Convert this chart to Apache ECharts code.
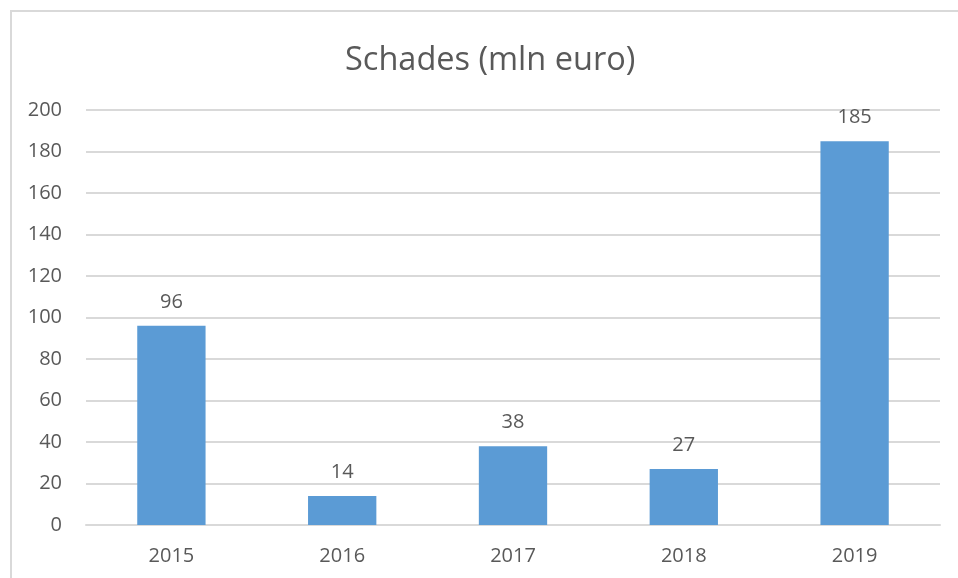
<!DOCTYPE html>
<html>
<head>
<meta charset="utf-8">
<script src="https://cdn.jsdelivr.net/npm/echarts@6/dist/echarts.min.js"></script>
<style>
  html, body { margin: 0; padding: 0; background: #fff; }
  #frame { position: absolute; left: 10px; top: 10px; width: 948px; height: 568px;
           border-left: 2px solid #d9d9d9; border-top: 2px solid #d9d9d9; box-sizing: border-box; }
  #chart { position: absolute; left: 0; top: 0; width: 958px; height: 578px; }
</style>
</head>
<body>
<div id="frame"></div>
<div id="chart"></div>
<script>
var years = ['2015', '2016', '2017', '2018', '2019'];
var damages = [96, 14, 38, 27, 185];

var textColor = '#595959';
var font = 'Open Sans';

var chart = echarts.init(document.getElementById('chart'));

chart.setOption({
    animation: false,
    title: {
        text: 'Schades (mln euro)',
        left: 340,
        top: 39,
        textStyle: { fontFamily: font, fontSize: 32.5, fontWeight: 'normal', color: textColor }
    },
    grid: { left: 86, right: 18, top: 110, bottom: 53 },
    xAxis: {
        type: 'category',
        data: years,
        axisLine: { lineStyle: { color: '#d9d9d9', width: 2 } },
        axisTick: { show: false },
        axisLabel: { color: textColor, fontFamily: font, fontSize: 20, margin: 21 }
    },
    yAxis: {
        type: 'value',
        min: 0,
        max: 200,
        interval: 20,
        axisLine: { show: false },
        axisTick: { show: false },
        splitLine: { lineStyle: { color: '#d9d9d9', width: 2 } },
        axisLabel: { color: textColor, fontFamily: font, fontSize: 20, margin: 24 }
    },
    series: [{
        type: 'bar',
        data: damages,
        barWidth: '40%',
        itemStyle: { color: '#5b9bd5' },
        label: {
            show: true,
            position: 'top',
            distance: 14,
            color: textColor,
            fontFamily: font,
            fontSize: 20
        }
    }]
});
</script>
</body>
</html>
